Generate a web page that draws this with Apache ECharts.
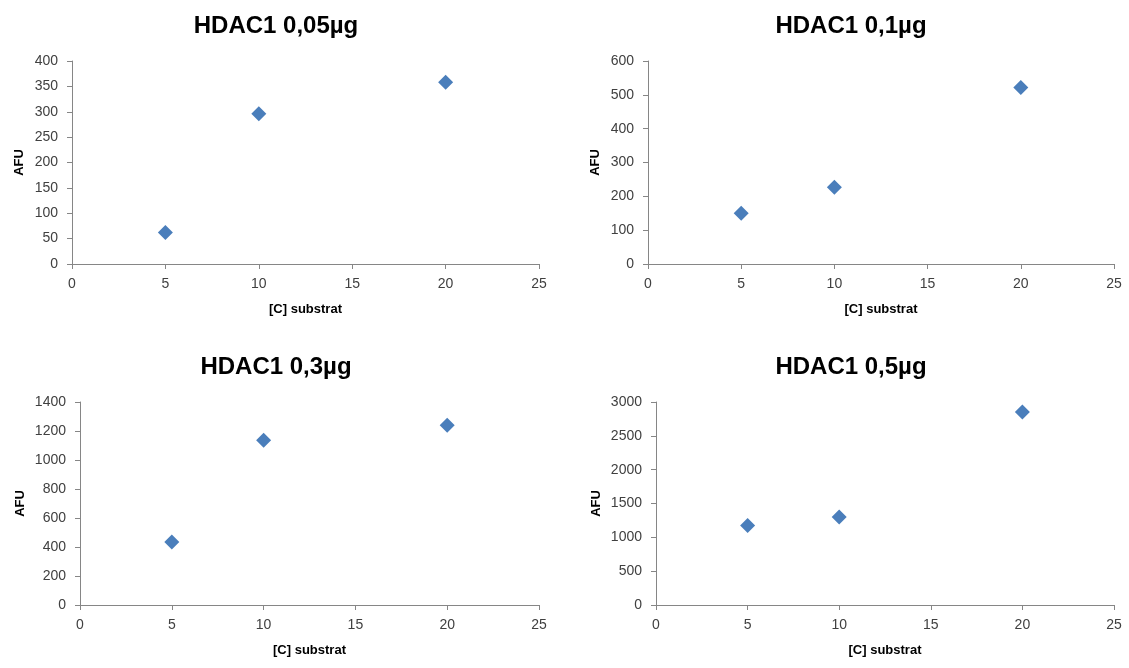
<!DOCTYPE html>
<html>
<head>
<meta charset="utf-8">
<script src="https://cdn.jsdelivr.net/npm/echarts@6/dist/echarts.min.js"></script>
<style>
html,body{margin:0;padding:0;background:#fff;}
#c{width:1129px;height:668px;}
</style>
</head>
<body>
<div id="c"></div>
<script>
// Data
const titles = ['HDAC1 0,05µg', 'HDAC1 0,1µg', 'HDAC1 0,3µg', 'HDAC1 0,5µg'];
const substrat = [5, 10, 20];
const afu005 = [62, 296, 358];
const afu01 = [150, 227, 522];
const afu03 = [434, 1137, 1240];
const afu05 = [1175, 1302, 2853];
const yMax = [400, 600, 1400, 3000];
const yStep = [50, 100, 200, 500];
const xMax = 25, xStep = 5;
const xName = '[C] substrat';
const yName = 'AFU';

const seriesValues = [afu005, afu01, afu03, afu05];

const grids = [
  {left: 72, top: 61, width: 467, height: 203},
  {left: 648, top: 61, width: 466, height: 203},
  {left: 80, top: 402, width: 459, height: 203},
  {left: 656, top: 402, width: 458, height: 203}
];
const titleCenters = [276, 851, 276, 851];
const yNameGaps = [46, 46, 53, 53];
const font = '"Liberation Sans", Arial, sans-serif';
const axisColor = '#868686';
const labelColor = '#404040';

const option = {
  animation: false,
  backgroundColor: '#fff',
  title: titles.map((t, i) => ({
    text: t,
    left: titleCenters[i],
    top: i < 2 ? 14 : 355,
    padding: 0,
    textAlign: 'center',
    textStyle: {fontFamily: font, fontWeight: 'bold', fontSize: 24, color: '#000'}
  })),
  grid: grids.map(g => Object.assign({containLabel: false}, g)),
  xAxis: grids.map((g, i) => ({
    type: 'value', gridIndex: i, min: 0, max: xMax, interval: xStep,
    name: xName, nameLocation: 'middle', nameGap: 39,
    nameTextStyle: {fontFamily: font, fontWeight: 'bold', fontSize: 13, color: '#000'},
    axisLine: {show: true, onZero: false, lineStyle: {color: axisColor, width: 1}},
    axisTick: {show: true, inside: false, length: 5, lineStyle: {color: axisColor}},
    axisLabel: {fontFamily: font, fontSize: 14, color: labelColor, margin: 13},
    splitLine: {show: false}
  })),
  yAxis: grids.map((g, i) => ({
    type: 'value', gridIndex: i, min: 0, max: yMax[i], interval: yStep[i],
    name: yName, nameLocation: 'middle', nameGap: yNameGaps[i], nameRotate: 90,
    nameTextStyle: {fontFamily: font, fontWeight: 'bold', fontSize: 13, color: '#000'},
    axisLine: {show: true, onZero: false, lineStyle: {color: axisColor, width: 1}},
    axisTick: {show: true, inside: false, length: 5, lineStyle: {color: axisColor}},
    axisLabel: {fontFamily: font, fontSize: 14, color: labelColor, margin: 14,
      formatter: v => String(v)},
    splitLine: {show: false}
  })),
  series: seriesValues.map((vals, i) => ({
    type: 'scatter', xAxisIndex: i, yAxisIndex: i,
    symbol: 'diamond', symbolSize: 15,
    itemStyle: {color: '#4a7ebb', opacity: 1},
    data: substrat.map((x, k) => [x, vals[k]])
  }))
};

const chart = echarts.init(document.getElementById('c'), null, {renderer: 'canvas'});
chart.setOption(option);
</script>
</body>
</html>
